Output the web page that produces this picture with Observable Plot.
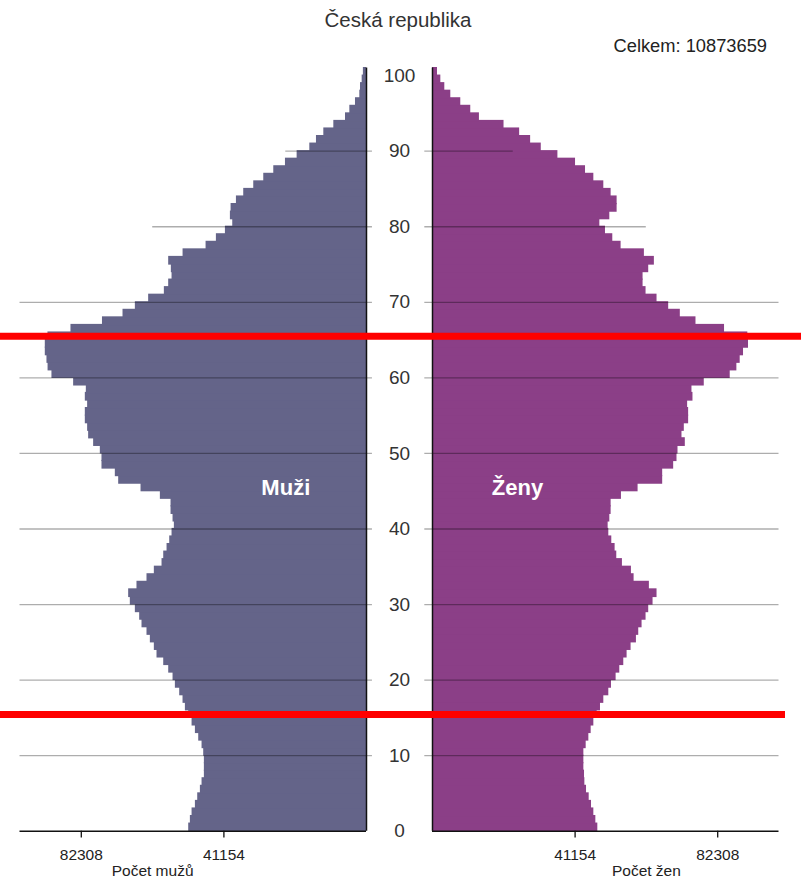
<!DOCTYPE html>
<html>
<head>
<meta charset="utf-8">
<script src="https://cdn.jsdelivr.net/npm/d3@7"></script>
<script src="https://cdn.jsdelivr.net/npm/@observablehq/plot@0.6"></script>
<style>
  body { margin: 0; background: #fff; font-family: "Liberation Sans", Arial, sans-serif; }
  #wrap { width: 801px; position: relative; }
  #head { position: relative; height: 60px; }
  #title { position: absolute; left: 0; width: 796px; top: 8px; text-align: center; font-size: 20.5px; line-height: 24px; color: #333; }
  #total { position: absolute; right: 34px; top: 36px; font-size: 18.3px; line-height: 20px; color: #222; }
  svg { display: block; }
</style>
</head>
<body>
<div id="wrap">
  <div id="head">
    <div id="title">Česká republika</div>
    <div id="total">Celkem: 10873659</div>
  </div>
  <div id="chart"></div>
</div>
<script>
// ---- data ----
const ages = [0,1,2,3,4,5,6,7,8,9,10,11,12,13,14,15,16,17,18,19,20,21,22,23,24,25,26,27,28,29,30,31,32,33,34,35,36,37,38,39,40,41,42,43,44,45,46,47,48,49,50,51,52,53,54,55,56,57,58,59,60,61,62,63,64,65,66,67,68,69,70,71,72,73,74,75,76,77,78,79,80,81,82,83,84,85,86,87,88,89,90,91,92,93,94,95,96,97,98,99,100];
const men = [51310,50830,50340,49380,48710,47940,47460,46790,46790,46790,
  46980,47460,48420,49380,50340,51310,52270,52950,53910,55160,
  55830,57080,58520,60460,61230,62380,63350,64790,65460,66710,
  68160,68640,66240,63350,61230,59010,58520,57560,56790,56120,
  55450,55830,56410,56410,59490,65070,71520,72490,76340,76340,
  76820,78750,80190,80480,81150,81150,80480,81150,80860,84520,
  90780,91900,92220,92700,92700,91930,85290,76200,70270,66710,
  62870,58340,57090,56120,56320,57090,52940,46300,43320,40720,
  38600,39280,39080,37540,35430,32540,29650,26760,23390,20020,
  16360,14440,12320,9430,6060,4810,3180,1930,1730,1250,900];
const women = [47710,47140,46560,45890,45220,44450,43970,43870,43680,43680,
  43680,44350,45120,45790,46560,47520,48480,49440,50880,51650,
  52990,54050,55200,56160,57310,58850,59520,60480,61630,62400,
  63650,64800,62590,58180,57410,54810,53180,52700,51740,50880,
  50690,51170,51550,51550,54530,59330,66430,66430,69600,70560,
  70850,72960,72000,72670,73920,73920,73630,75170,74880,78430,
  85920,87840,88800,89760,91200,91000,84280,76040,71520,68160,
  64800,61630,60770,60770,62400,64030,61150,54430,52030,49920,
  48290,51170,53280,53280,51550,49440,46560,44160,41280,36190,
  31390,28320,25150,20640,13540,11040,8160,5280,3550,2400,1440];
const ageTicks = [0,10,20,30,40,50,60,70,80,90,100];
const gridAges = [10,20,30,40,50,60,70,80,90];
const gridReach = [100000,100000,100000,100000,100000,100000,100000,61700,23300];
const valueTicks = [41154, 82308];
const sexLabels = ["Muži", "Ženy"];
const axisTitles = ["Počet mužů", "Počet žen"];
const markerAges = [65.5, 15.45];

// ---- layout ----
const W = 801, H = 819;
const D = 100000;          // max value shown on each side
const G = 9524;            // half-gap between the two panels, in value units
const xLeftPx = 19.5, xRightPx = 778.5;
const kPx = (xRightPx - xLeftPx) / (2 * (D + G));
const cPx = (xLeftPx + xRightPx) / 2;
const px2u = px => (px - cPx) / kPx;
const menColor = "#646489", womenColor = "#8b3f87";

const menData = ages.map((a, i) => ({age: a, v: men[i]}));
const womenData = ages.map((a, i) => ({age: a, v: women[i]}));
const grid = gridAges.map((a, i) => ({age: a, reach: gridReach[i]}));

const tickLen = 7 / kPx;

const plot = Plot.plot({
  width: W,
  height: H,
  marginLeft: xLeftPx,
  marginRight: W - xRightPx,
  marginTop: 7.6,
  marginBottom: H - 770.7,
  style: {fontFamily: "'Liberation Sans', Arial, sans-serif", background: "white"},
  x: {domain: [-(D + G), D + G], range: [xLeftPx, xRightPx], axis: null},
  y: {domain: [0, 101], range: [770.7, 7.6], axis: null},
  marks: [
    Plot.rectX(menData, {y1: "age", y2: d => d.age + 1, x1: -G, x2: d => -G - d.v, fill: menColor, insetTop: -0.6, insetBottom: -0.6}),
    Plot.rectX(womenData, {y1: "age", y2: d => d.age + 1, x1: G, x2: d => G + d.v, fill: womenColor, insetTop: -0.6, insetBottom: -0.6}),
    // grid lines on top (semi-transparent)
    Plot.ruleY(grid, {y: "age", x1: d => -G - d.reach, x2: -G + tickLen * 0.85, stroke: "#000", strokeOpacity: 0.32, strokeWidth: 1.3}),
    Plot.ruleY(grid, {y: "age", x1: G - tickLen * 1.1, x2: d => G + d.reach, stroke: "#000", strokeOpacity: 0.32, strokeWidth: 1.3}),
    // vertical axes
    Plot.ruleX([-G, G], {y1: 0, y2: 101, stroke: "#111", strokeWidth: 1.5}),
    // bottom axes
    Plot.ruleY([0], {x1: -(G + D), x2: -G, stroke: "#111", strokeWidth: 1.5}),
    Plot.ruleY([0], {x1: G, x2: G + D, stroke: "#111", strokeWidth: 1.5}),
    Plot.ruleX(valueTicks, {x: d => -(G + d), y1: 0, y2: -0.9, stroke: "#111", strokeWidth: 1.3}),
    Plot.ruleX(valueTicks, {x: d => G + d, y1: 0, y2: -0.9, stroke: "#111", strokeWidth: 1.3}),
    Plot.text(valueTicks, {x: d => -(G + d), y: 0, dy: 24, text: d => String(d), fontSize: 15.5, fill: "#222"}),
    Plot.text(valueTicks, {x: d => G + d, y: 0, dy: 24, text: d => String(d), fontSize: 15.5, fill: "#222"}),
    Plot.text([axisTitles[0]], {x: -(G + (valueTicks[0] + valueTicks[1]) / 2), y: 0, dy: 40, text: d => d, fontSize: 15.5, fill: "#222"}),
    Plot.text([axisTitles[1]], {x: G + (valueTicks[0] + valueTicks[1]) / 2, y: 0, dy: 40, text: d => d, fontSize: 15.5, fill: "#222"}),
    // age labels
    Plot.text(ageTicks, {x: 0, y: d => d, text: d => String(d), fontSize: 19, fill: "#333"}),
    // sex labels
    Plot.text([sexLabels[0]], {x: px2u(285.3), y: 45.4, text: d => d, fontSize: 22, fontWeight: "bold", fill: "white"}),
    Plot.text([sexLabels[1]], {x: px2u(517), y: 45.4, text: d => d, fontSize: 22, fontWeight: "bold", fill: "white"}),
    // red marker lines
    Plot.ruleY([markerAges[0]], {y: d => d, x1: px2u(0), x2: px2u(801), stroke: "#ff0000", strokeWidth: 7}),
    Plot.ruleY([markerAges[1]], {y: d => d, x1: px2u(0), x2: px2u(785), stroke: "#ff0000", strokeWidth: 7})
  ]
});
document.getElementById("chart").appendChild(plot);
</script>
</body>
</html>
